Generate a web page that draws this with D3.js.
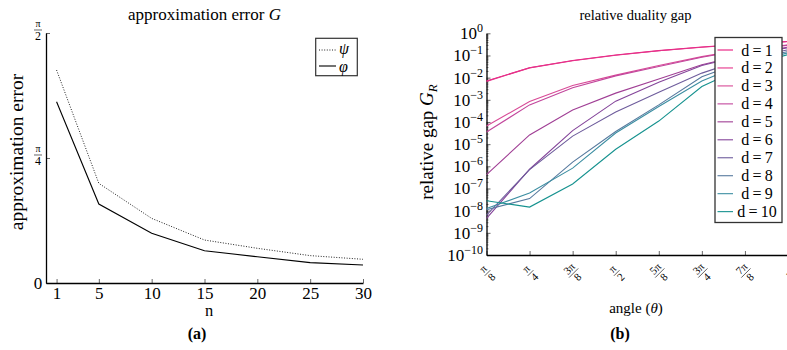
<!DOCTYPE html>
<html><head><meta charset="utf-8">
<script src="https://cdn.jsdelivr.net/npm/d3@7/dist/d3.min.js"></script>
<style>
body{margin:0;background:#fff}
svg{display:block}
text{font-family:"Liberation Serif","DejaVu Serif",serif;fill:#000}
</style>
</head><body>
<svg id="c" width="787" height="350"></svg>
<script>
// ---------- data: left chart ----------
const nValues   = [1, 5, 10, 15, 20, 25, 30];
const psiValues = [1.338, 0.626, 0.406, 0.270, 0.218, 0.172, 0.149];
const phiValues = [1.139, 0.496, 0.312, 0.203, 0.165, 0.128, 0.113];
const nTicks    = [1, 5, 10, 15, 20, 25, 30];
const errTicks  = [0, 0.7854, 1.5708];
const errTickNum = ["0", "π", "π"];
const errTickDen = ["", "4", "2"];

// ---------- data: right chart ----------
const angles = [0.3927, 0.7854, 1.1781, 1.5708, 1.9635, 2.3562, 2.7489, 3.1416];
const angleTickNum = ["π", "π", "3π", "π", "5π", "3π", "7π", "π"];
const angleTickDen = ["8", "4", "8", "2", "8", "4", "8", ""];
const seriesNames = ["d=1","d=2","d=3","d=4","d=5","d=6","d=7","d=8","d=9","d=10"];
const seriesColors = ["#e8177d","#e5348a","#d84a97","#c2469c","#a03f95","#84459a","#6e5c9c","#56799e","#3c8ea2","#16928f"];
const gap_d1  = [7.1e-3, 2.8e-2, 5.9e-2, 1.05e-1, 1.66e-1, 2.4e-1, 3.3e-1, 4.3e-1];
const gap_d2  = [6.8e-3, 2.75e-2, 5.75e-2, 1.02e-1, 1.62e-1, 2.35e-1, 3.2e-1, 4.2e-1];
const gap_d3  = [6.6e-5, 8.3e-4, 4.4e-3, 1.3e-2, 3.5e-2, 8.9e-2, 1.9e-1, 3.0e-1];
const gap_d4  = [3.5e-5, 5.9e-4, 3.5e-3, 1.2e-2, 3.2e-2, 8.3e-2, 1.8e-1, 2.9e-1];
const gap_d5  = [4.2e-7, 2.6e-5, 3.5e-4, 2.0e-3, 8.7e-3, 3.8e-2, 1.1e-1, 2.4e-1];
const gap_d6  = [4.5e-9, 7.4e-7, 4.1e-5, 8.7e-4, 6.2e-3, 3.5e-2, 1.05e-1, 2.2e-1];
const gap_d7  = [6.3e-9, 7.1e-7, 2.3e-5, 2.8e-4, 2.2e-3, 1.6e-2, 7.1e-2, 1.8e-1];
const gap_d8  = [1.1e-8, 3.5e-8, 1.55e-6, 3.7e-5, 5.9e-4, 1.1e-2, 5.6e-2, 1.5e-1];
const gap_d9  = [1.25e-8, 6.2e-8, 8.3e-7, 3.2e-5, 5.0e-4, 7.1e-3, 4.5e-2, 1.3e-1];
const gap_d10 = [2.8e-8, 1.45e-8, 1.6e-7, 5.9e-6, 1.1e-4, 4.0e-3, 3.2e-2, 1.1e-1];
const gapSeries = [gap_d1,gap_d2,gap_d3,gap_d4,gap_d5,gap_d6,gap_d7,gap_d8,gap_d9,gap_d10];
const decadeTicks = [1e-10,1e-9,1e-8,1e-7,1e-6,1e-5,1e-4,1e-3,1e-2,1e-1,1];
const decadeLabels = ["−10","−9","−8","−7","−6","−5","−4","−3","−2","−1","0"];

const svg = d3.select("#c");

// fraction helper
function fraction(g, num, den, numSize, denSize, barW) {
  g.append("text").attr("text-anchor","middle").attr("y",-2.5)
    .style("font-size",numSize+"px").text(num);
  g.append("line").attr("x1",-barW/2).attr("x2",barW/2).attr("y1",0).attr("y2",0)
    .attr("stroke","#000").attr("stroke-width",0.6);
  g.append("text").attr("text-anchor","middle").attr("y",denSize*0.72+1.5)
    .style("font-size",denSize+"px").text(den);
}

// ================= LEFT CHART =================
const xL = d3.scaleLinear().domain([0, 30]).range([46, 363]);
const yL = d3.scaleLinear().domain([0, Math.PI/2]).range([283, 33]);
const gL = svg.append("g");

const axBL = gL.append("g").attr("transform","translate(0,283)")
  .call(d3.axisBottom(xL).tickValues(nTicks).tickSize(-4).tickSizeOuter(0).tickPadding(4));
axBL.selectAll("text").style("font-size","17px").attr("dy","0.7em");
const axLL = gL.append("g").attr("transform","translate(46,0)")
  .call(d3.axisLeft(yL).tickValues(errTicks).tickSize(-4).tickSizeOuter(0).tickFormat(""));
[axBL, axLL].forEach(a => { a.attr("font-family",null);
  a.select(".domain").attr("stroke","#000").attr("stroke-width",1.3);
  a.selectAll(".tick line").attr("stroke","#000").attr("stroke-width",0.6); });

errTicks.forEach((v,i) => {
  if (errTickDen[i] === "") {
    gL.append("text").attr("x",38).attr("y",yL(v)+6).attr("text-anchor","middle")
      .style("font-size","17px").text(errTickNum[i]);
  } else {
    fraction(gL.append("g").attr("transform",`translate(38,${yL(v)-3})`),
      errTickNum[i], errTickDen[i], 10, 12, 8);
  }
});

const lineL = (vals) => d3.line().x((d,i)=>xL(nValues[i])).y(d=>yL(d))(vals);
gL.append("path").attr("d", lineL(psiValues)).attr("fill","none").attr("stroke","#222")
  .attr("stroke-width",1).attr("stroke-dasharray","1,1.6");
gL.append("path").attr("d", lineL(phiValues)).attr("fill","none").attr("stroke","#000")
  .attr("stroke-width",1.1);

// legend left
gL.append("rect").attr("x",315.7).attr("y",38.3).attr("width",41.6).attr("height",37.4)
  .attr("fill","#fff").attr("stroke","#333").attr("stroke-width",1.2);
gL.append("line").attr("x1",319).attr("x2",336).attr("y1",50).attr("y2",50)
  .attr("stroke","#222").attr("stroke-width",1).attr("stroke-dasharray","1,1.6");
gL.append("line").attr("x1",319).attr("x2",336).attr("y1",66).attr("y2",66)
  .attr("stroke","#000").attr("stroke-width",1.1);
gL.append("text").attr("x",339).attr("y",54).style("font-size","16px").style("font-style","italic").text("ψ");
gL.append("text").attr("x",339).attr("y",71.5).style("font-size","16px").style("font-style","italic").text("φ");

// texts left
const tL = gL.append("text").attr("x",204.5).attr("y",20).attr("text-anchor","middle").style("font-size","17px");
tL.append("tspan").text("approximation error ");
tL.append("tspan").style("font-style","italic").text("G");
gL.append("text").attr("transform","translate(23,152) rotate(-90)").attr("text-anchor","middle")
  .style("font-size","19.5px").text("approximation error");
gL.append("text").attr("x",209).attr("y",316).attr("text-anchor","middle").style("font-size","16.5px").text("n");
gL.append("text").attr("x",197).attr("y",339).attr("text-anchor","middle")
  .style("font-size","16px").style("font-weight","bold").text("(a)");

// ================= RIGHT CHART =================
const xR = d3.scaleLinear().domain([angles[0], angles[angles.length-1]]).range([486.5, 788]);
const yR = d3.scaleLog().domain([1e-10, 1]).range([255, 33.3]);
const gR = svg.append("g");

const minorTicks = [];
decadeTicks.slice(0,-1).forEach(d => { for (let k=2;k<=9;k++) minorTicks.push(d*k); });
const axMin = gR.append("g").attr("transform","translate(486.5,0)")
  .call(d3.axisLeft(yR).tickValues(minorTicks).tickSize(-2).tickSizeOuter(0).tickFormat(""));
axMin.select(".domain").remove();
axMin.selectAll(".tick line").attr("stroke","#000").attr("stroke-width",0.5);
const axLR = gR.append("g").attr("transform","translate(486.5,0)")
  .call(d3.axisLeft(yR).tickValues(decadeTicks).tickSize(-4).tickSizeOuter(0).tickFormat(""));
const axBR = gR.append("g").attr("transform","translate(0,255)")
  .call(d3.axisBottom(xR).tickValues(angles).tickSize(-4).tickSizeOuter(0).tickFormat(""));
[axLR, axBR].forEach(a => { a.select(".domain").attr("stroke","#000").attr("stroke-width",1.3);
  a.selectAll(".tick line").attr("stroke","#000").attr("stroke-width",0.6); });

decadeTicks.forEach((v,i) => {
  const t = gR.append("text").attr("x",483).attr("y",yR(v)+6).attr("text-anchor","end").style("font-size","17px");
  t.append("tspan").text("10");
  t.append("tspan").attr("dy",-7).style("font-size","12px").text(decadeLabels[i]);
});

angles.forEach((v,i) => {
  const g = gR.append("g").attr("transform",`translate(${xR(v)+1},273) rotate(-45)`);
  if (angleTickDen[i] === "") {
    g.append("text").attr("text-anchor","middle").attr("y",5).style("font-size","13px").text(angleTickNum[i]);
  } else {
    fraction(g, angleTickNum[i], angleTickDen[i], 11, 11, angleTickNum[i].length>1?13:8);
  }
});

const lineR = d3.line().x((d,i)=>xR(angles[i])).y(d=>yR(d));
gapSeries.forEach((s,i) => {
  gR.append("path").attr("d", lineR(s)).attr("fill","none")
    .attr("stroke", seriesColors[i]).attr("stroke-width",1.1);
});

// legend right
gR.append("rect").attr("x",715).attr("y",37.5).attr("width",67).attr("height",185)
  .attr("fill","#fff").attr("stroke","#333").attr("stroke-width",1.3);
seriesNames.forEach((name,i) => {
  const y = 50 + i*17.96;
  gR.append("line").attr("x1",717.5).attr("x2",733).attr("y1",y).attr("y2",y)
    .attr("stroke",seriesColors[i]).attr("stroke-width",1.1);
  gR.append("text").attr("x",757).attr("y",y+5.5).attr("text-anchor","middle")
    .style("font-size","16px").text(name.replace("=","\u2009=\u2009"));
});

// texts right
gR.append("text").attr("x",635.5).attr("y",20).attr("text-anchor","middle").style("font-size","14.5px")
  .text("relative duality gap");
const yt = gR.append("text").attr("transform","translate(433,142) rotate(-90)").attr("text-anchor","middle")
  .style("font-size","19px");
yt.append("tspan").text("relative gap ");
yt.append("tspan").style("font-style","italic").text("G");
yt.append("tspan").attr("dy",4).style("font-size","13px").style("font-style","italic").text("R");
const at = gR.append("text").attr("x",636).attr("y",313).attr("text-anchor","middle").style("font-size","15px");
at.append("tspan").text("angle (");
at.append("tspan").style("font-style","italic").text("θ");
at.append("tspan").text(")");
gR.append("text").attr("x",620).attr("y",339).attr("text-anchor","middle")
  .style("font-size","16px").style("font-weight","bold").text("(b)");
</script>
</body></html>
